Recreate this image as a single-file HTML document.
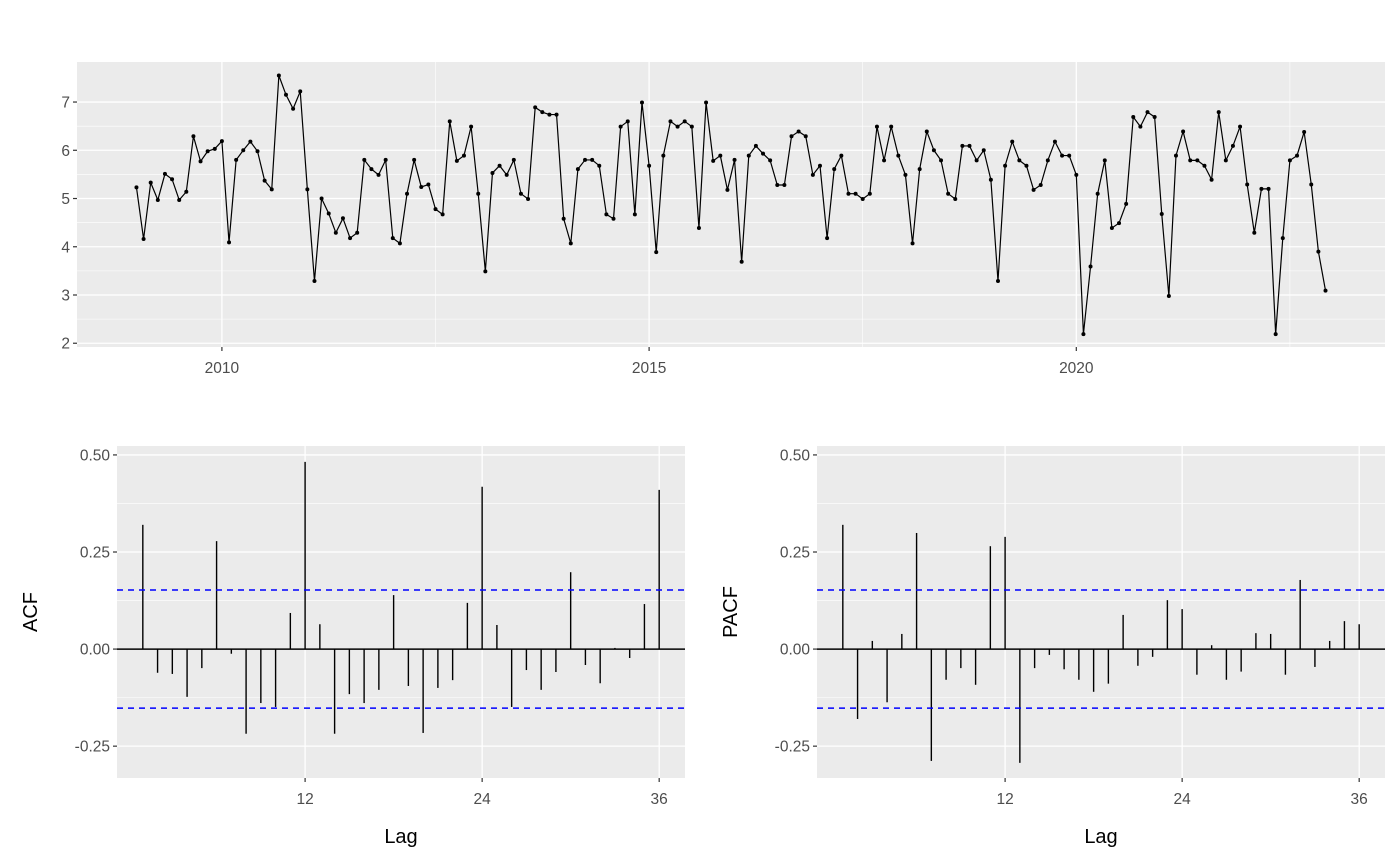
<!DOCTYPE html>
<html><head><meta charset="utf-8"><style>
body{margin:0;background:#fff;}
svg{display:block;font-family:"Liberation Sans",Arial,sans-serif;}
</style></head><body>
<svg id="chart" width="1400" height="865" viewBox="0 0 1400 865"></svg>
<script>
const seriesValues = [
5.23,4.16,5.33,4.97,5.51,5.40,4.97,5.14,6.29,5.77,5.98,6.03,
6.19,4.09,5.80,6.00,6.18,5.98,5.37,5.19,7.55,7.15,6.86,7.22,
5.19,3.29,5.00,4.69,4.29,4.59,4.18,4.29,5.80,5.61,5.49,5.80,
4.18,4.07,5.10,5.80,5.24,5.29,4.78,4.67,6.60,5.78,5.89,6.49,
5.10,3.49,5.53,5.68,5.49,5.80,5.10,4.99,6.89,6.79,6.74,6.74,
4.58,4.07,5.61,5.80,5.80,5.68,4.67,4.58,6.49,6.60,4.67,6.99,
5.68,3.89,5.89,6.60,6.49,6.60,6.49,4.39,6.99,5.78,5.89,5.18,
5.80,3.69,5.89,6.09,5.93,5.79,5.28,5.28,6.29,6.39,6.29,5.49,
5.68,4.18,5.61,5.89,5.10,5.10,4.99,5.10,6.49,5.79,6.49,5.89,
5.49,4.07,5.61,6.39,6.00,5.79,5.10,4.99,6.09,6.09,5.79,6.00,
5.39,3.29,5.68,6.18,5.79,5.68,5.18,5.28,5.79,6.18,5.89,5.89,
5.49,2.19,3.59,5.10,5.79,4.39,4.49,4.89,6.69,6.49,6.79,6.69,
4.68,2.98,5.89,6.39,5.79,5.79,5.68,5.39,6.79,5.79,6.09,6.49,
5.29,4.29,5.20,5.20,2.19,4.18,5.79,5.89,6.38,5.29,3.90,3.09];
const startYear = 2009;
const yTickLabels = [2,3,4,5,6,7];
const xTickLabels = [2010,2015,2020];
const acfValues = [0.32,-0.061,-0.064,-0.123,-0.049,0.278,-0.012,-0.218,-0.139,-0.149,0.093,0.482,
0.064,-0.218,-0.116,-0.139,-0.105,0.139,-0.095,-0.216,-0.10,-0.08,0.119,0.418,
0.062,-0.149,-0.054,-0.105,-0.059,0.198,-0.041,-0.088,0.003,-0.023,0.116,0.41];
const pacfValues = [0.32,-0.18,0.021,-0.137,0.039,0.299,-0.288,-0.079,-0.049,-0.092,0.265,0.289,
-0.293,-0.049,-0.015,-0.052,-0.079,-0.11,-0.089,0.088,-0.043,-0.02,0.126,0.103,
-0.066,0.01,-0.079,-0.058,0.041,0.039,-0.066,0.178,-0.046,0.021,0.072,0.064];
const ciLimit = 0.152;
const acfTickLabels = ["0.50","0.25","0.00","-0.25"];
const lagTickLabels = [12,24,36];

const svg = document.getElementById('chart');
const NS = 'http://www.w3.org/2000/svg';
function mk(tag, attrs, parent){const e=document.createElementNS(NS,tag);for(const k in attrs)e.setAttribute(k,attrs[k]);(parent||svg).appendChild(e);return e;}

// ---------- top panel ----------
const T = {x0:77,x1:1385,y0:62,y1:347};
const tDomX=[2008.304,2023.613], tDomY=[1.922,7.83];
const tx = v => T.x0 + (v-tDomX[0])/(tDomX[1]-tDomX[0])*(T.x1-T.x0);
const ty = v => T.y1 - (v-tDomY[0])/(tDomY[1]-tDomY[0])*(T.y1-T.y0);
const tg = mk('g',{});


mk('rect',{x:T.x0,y:T.y0,width:T.x1-T.x0,height:T.y1-T.y0,fill:'#ebebeb'},tg);
for(let i=0;i<yTickLabels.length-1;i++){const v=(yTickLabels[i]+yTickLabels[i+1])/2;mk('line',{x1:T.x0,x2:T.x1,y1:ty(v),y2:ty(v),stroke:'#fff','stroke-width':0.6},tg);}
for(let i=0;i<xTickLabels.length;i++){const v=xTickLabels[i]+2.5;if(tx(v)<T.x1)mk('line',{x1:tx(v),x2:tx(v),y1:T.y0,y2:T.y1,stroke:'#fff','stroke-width':0.6},tg);}
yTickLabels.forEach(v=>{mk('line',{x1:T.x0,x2:T.x1,y1:ty(v),y2:ty(v),stroke:'#fff','stroke-width':1.3},tg);
 mk('line',{x1:T.x0-4,x2:T.x0,y1:ty(v),y2:ty(v),stroke:'#333','stroke-width':1.2},tg);
 const t=mk('text',{x:T.x0-7,y:ty(v)+5.5,'text-anchor':'end','font-size':15.5,fill:'#4d4d4d'},tg);t.textContent=v;
 });
xTickLabels.forEach(v=>{mk('line',{x1:tx(v),x2:tx(v),y1:T.y0,y2:T.y1,stroke:'#fff','stroke-width':1.3},tg);
 mk('line',{x1:tx(v),x2:tx(v),y1:T.y1,y2:T.y1+4,stroke:'#333','stroke-width':1.2},tg);
 const t=mk('text',{x:tx(v),y:T.y1+26,'text-anchor':'middle','font-size':15.5,fill:'#4d4d4d'},tg);t.textContent=v;
 });
let pts = seriesValues.map((v,i)=>tx(startYear+i/12).toFixed(2)+','+ty(v).toFixed(2)).join(' ');
const pl = mk('polyline',{points:pts,fill:'none',stroke:'#000','stroke-width':1.2},tg);

seriesValues.forEach((v,i)=>{const c=mk('circle',{cx:tx(startYear+i/12),cy:ty(v),r:2,fill:'#000'},tg);
 });

// ---------- ACF / PACF panels ----------
function corrPanel(name, x0, x1, vals, title, titleX){
 const P={x0:x0,x1:x1,y0:446,y1:778};
 const dX=[-0.75,37.75], dY=[-0.332,0.523];
 const px=v=>P.x0+(v-dX[0])/(dX[1]-dX[0])*(P.x1-P.x0);
 const py=v=>P.y1-(v-dY[0])/(dY[1]-dY[0])*(P.y1-P.y0);
 const g=mk('g',{});
 
 
 mk('rect',{x:P.x0,y:P.y0,width:P.x1-P.x0,height:P.y1-P.y0,fill:'#ebebeb'},g);
 [0.375,0.125,-0.125].forEach(v=>mk('line',{x1:P.x0,x2:P.x1,y1:py(v),y2:py(v),stroke:'#fff','stroke-width':0.6},g));
 acfTickLabels.forEach(s=>{const v=parseFloat(s);
  mk('line',{x1:P.x0,x2:P.x1,y1:py(v),y2:py(v),stroke:'#fff','stroke-width':1.3},g);
  mk('line',{x1:P.x0-4,x2:P.x0,y1:py(v),y2:py(v),stroke:'#333','stroke-width':1.2},g);
  const t=mk('text',{x:P.x0-7,y:py(v)+5.5,'text-anchor':'end','font-size':15.5,fill:'#4d4d4d'},g);t.textContent=s;
  });
 lagTickLabels.forEach(v=>{mk('line',{x1:px(v),x2:px(v),y1:P.y0,y2:P.y1,stroke:'#fff','stroke-width':1.3},g);
  mk('line',{x1:px(v),x2:px(v),y1:P.y1,y2:P.y1+4,stroke:'#333','stroke-width':1.2},g);
  const t=mk('text',{x:px(v),y:P.y1+26,'text-anchor':'middle','font-size':15.5,fill:'#4d4d4d'},g);t.textContent=v;
  });
 const z=mk('line',{x1:P.x0,x2:P.x1,y1:py(0),y2:py(0),stroke:'#000','stroke-width':1.5},g);
 
 vals.forEach((v,i)=>{const b=mk('line',{x1:px(i+1),x2:px(i+1),y1:py(0),y2:py(v),stroke:'#000','stroke-width':1.4},g);
  });
 [ciLimit,-ciLimit].forEach(v=>{const l=mk('line',{x1:P.x0,x2:P.x1,y1:py(v),y2:py(v),stroke:'#0000ff','stroke-width':1.5,'stroke-dasharray':'6,5'},g);
  });
 const yt=mk('text',{x:0,y:0,transform:`translate(${titleX},${(P.y0+P.y1)/2}) rotate(-90)`,'text-anchor':'middle','font-size':20,fill:'#000'},g);
 yt.textContent=title;
 const xt=mk('text',{x:(P.x0+P.x1)/2,y:843,'text-anchor':'middle','font-size':20,fill:'#000'},g);
 xt.textContent='Lag';
}
corrPanel('acf-panel',117,685,acfValues,'ACF',37);
corrPanel('pacf-panel',817,1385,pacfValues,'PACF',737);
</script>
</body></html>
